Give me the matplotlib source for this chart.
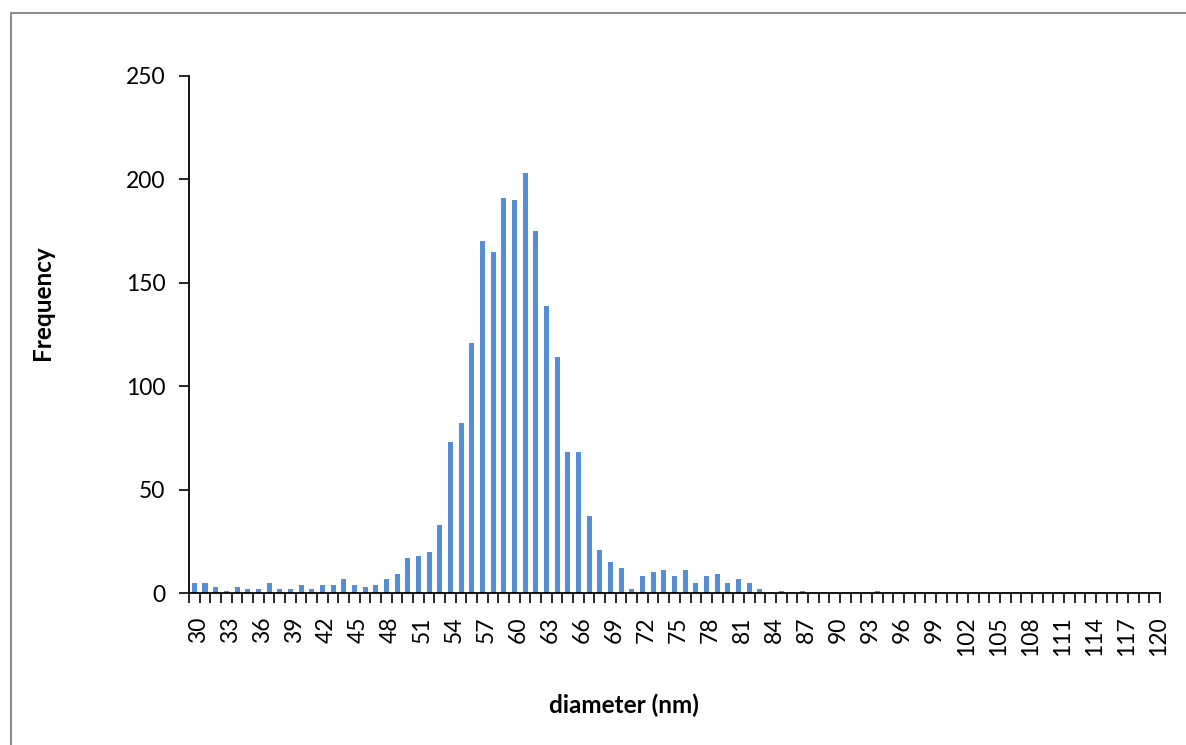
import matplotlib
matplotlib.use("Agg")
import matplotlib.pyplot as plt
import matplotlib.transforms as mtransforms
from matplotlib.lines import Line2D
import numpy as np

plt.rcParams['font.family'] = ['Lato', 'DejaVu Sans']

# particle size histogram, 1 nm bins
diameters = list(range(30, 121))
counts_30_94 = [5, 5, 3, 1, 3, 2, 2, 5, 2, 2,      # 30-39
                4, 2, 4, 4, 7, 4, 3, 4, 7, 9,      # 40-49
                17, 18, 20, 33, 73, 82, 121, 170, 165, 191,   # 50-59
                190, 203, 175, 139, 114, 68, 68, 37, 21, 15,  # 60-69
                12, 2, 8, 10, 11, 8, 11, 5, 8, 9,  # 70-79
                5, 7, 5, 2, 0, 1, 0, 1, 0, 0,      # 80-89
                0, 0, 0, 0, 1]                     # 90-94
counts = counts_30_94 + [0] * (len(diameters) - len(counts_30_94))
y_ticks = [0, 50, 100, 150, 200, 250]
label_every = 3

W, H = 1186, 745
fig = plt.figure(figsize=(W / 100, H / 100), dpi=100)
ax = fig.add_axes([189 / W, 1 - 593 / H, (1160 - 189) / W, (593 - 76) / H])

x = np.arange(len(diameters))
ax.bar(x, counts, width=0.47, color='#558ED5', zorder=2)

ax.set_xlim(-0.5, len(diameters) - 0.5)
ax.set_ylim(0, 250)

# y axis
ax.set_yticks(y_ticks)
ax.tick_params(axis='y', direction='out', length=7, width=1.2, pad=10,
               labelsize=16.5, colors='black')

# category axis: tick marks between bins, labels every third bin
ax.set_xticks(x[::label_every])
ax.set_xticklabels([str(d) for d in diameters[::label_every]], rotation=90)
ax.set_xticks(np.arange(len(diameters) + 1) - 0.5, minor=True)
ax.tick_params(axis='x', which='major', length=0, pad=17, labelsize=16.5)
ax.tick_params(axis='x', which='minor', direction='out', length=7, width=1.2)
shift = mtransforms.ScaledTranslation(4 / 100, 0, fig.dpi_scale_trans)
for lbl in ax.get_xticklabels():
    lbl.set_transform(lbl.get_transform() + shift)

for side in ('top', 'right'):
    ax.spines[side].set_visible(False)
for side in ('left', 'bottom'):
    ax.spines[side].set_linewidth(1.3)
    ax.spines[side].set_color('black')

fig.text(43 / W, 1 - 303 / H, 'Frequency', rotation=90, fontsize=17.5,
         fontweight='bold', ha='center', va='center')
fig.text(624 / W, 1 - 705 / H, 'diameter (nm)', fontsize=17.5,
         fontweight='bold', ha='center', va='center')

# chart frame
frame_col = '#8C8C8C'
fig.add_artist(Line2D([11 / W, 11 / W], [0, 1 - 13 / H], color=frame_col,
                      lw=1.5, transform=fig.transFigure))
fig.add_artist(Line2D([11 / W, 1], [1 - 13 / H, 1 - 13 / H], color=frame_col,
                      lw=1.5, transform=fig.transFigure))

fig.savefig('out.png', dpi=100, facecolor='white')
